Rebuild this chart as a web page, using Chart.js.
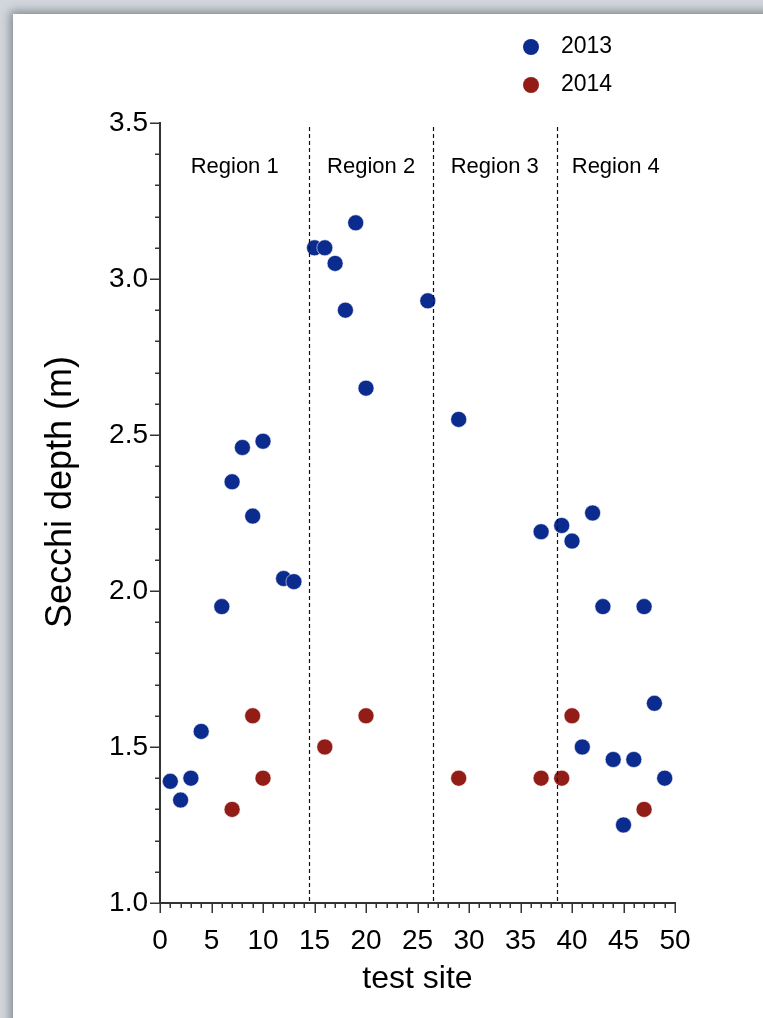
<!DOCTYPE html>
<html>
<head>
<meta charset="utf-8">
<script src="https://cdn.jsdelivr.net/npm/chart.js@4.4.1/dist/chart.umd.min.js"></script>
<style>
  html, body { margin: 0; padding: 0; width: 763px; height: 1018px; overflow: hidden; background: #d3d7dd; }
  #card { position: absolute; left: 13px; top: 14px; width: 800px; height: 1060px; background: #fff;
          box-shadow: 0 0 9px 3px rgba(70, 76, 88, 0.55); }
  #wrap { position: absolute; left: 0; top: 0; width: 763px; height: 1018px; }
</style>
</head>
<body>
<div id="card"></div>
<div id="wrap"><canvas id="chart" width="763" height="1018"></canvas></div>
<script>
// Secchi depth measurements per test site
const sites2013 = [1, 2, 3, 4, 6, 7, 8, 9, 10, 12, 13, 15, 16, 17, 18, 19, 20, 26, 29, 37, 39, 40, 41, 42, 43, 44, 45, 46, 47, 48, 49];
const depth2013 = [1.39, 1.33, 1.40, 1.55, 1.95, 2.35, 2.46, 2.24, 2.48, 2.04, 2.03, 3.10, 3.10, 3.05, 2.90, 3.18, 2.65, 2.93, 2.55, 2.19, 2.21, 2.16, 1.50, 2.25, 1.95, 1.46, 1.25, 1.46, 1.95, 1.64, 1.40];

const sites2014 = [7, 9, 10, 16, 20, 29, 37, 39, 40, 47];
const depth2014 = [1.30, 1.60, 1.40, 1.50, 1.60, 1.40, 1.40, 1.40, 1.60, 1.30];

// Region boundaries along the test-site axis
const regionBounds = [0, 14.5, 26.5, 38.5, 50];
const regionNames = ['Region 1', 'Region 2', 'Region 3', 'Region 4'];

// Axis ranges and labelled ticks
const xRange = [0, 50];
const yRange = [1.0, 3.5];
const xTickLabels = ['0', '5', '10', '15', '20', '25', '30', '35', '40', '45', '50'];
const yTickLabels = ['1.0', '1.5', '2.0', '2.5', '3.0', '3.5'];

const seriesLabels = ['2013', '2014'];
const seriesColors = ['#0b2b8f', '#921d17'];

const FONT = "'Liberation Sans', Helvetica, Arial, sans-serif";
Chart.defaults.font.family = FONT;
Chart.defaults.color = '#000';

const AXIS_COLOR = '#333';

function toPoints(xs, ys) { return xs.map((x, i) => ({ x: x, y: ys[i] })); }

const decorations = {
  id: 'decorations',
  afterDatasetsDraw(chart) {
    const ctx = chart.ctx;
    const xs = chart.scales.x;
    const area = chart.chartArea;

    // dashed region separators
    ctx.save();
    ctx.strokeStyle = '#111';
    ctx.lineWidth = 1.2;
    ctx.setLineDash([4, 3]);
    regionBounds.slice(1, -1).forEach(b => {
      const px = Math.round(xs.getPixelForValue(b)) + 0.5;
      ctx.beginPath();
      ctx.moveTo(px, area.top + 4);
      ctx.lineTo(px, area.bottom);
      ctx.stroke();
    });
    ctx.restore();

    // region names
    ctx.save();
    ctx.font = '22px ' + FONT;
    ctx.fillStyle = '#000';
    ctx.textAlign = 'center';
    ctx.textBaseline = 'middle';
    regionNames.forEach((name, i) => {
      const mid = (regionBounds[i] + regionBounds[i + 1]) / 2;
      ctx.fillText(name, xs.getPixelForValue(mid), area.top + 44);
    });
    ctx.restore();
  },
  afterDraw(chart) {
    const ctx = chart.ctx;
    const xs = chart.scales.x, ys = chart.scales.y;
    const area = chart.chartArea;

    // major and minor tick marks
    ctx.save();
    ctx.strokeStyle = AXIS_COLOR;
    ctx.lineWidth = 1.5;
    for (let v = xRange[0]; v <= xRange[1]; v++) {
      const px = Math.round(xs.getPixelForValue(v)) + 0.25;
      const len = v % 5 === 0 ? 10 : 5;
      ctx.beginPath();
      ctx.moveTo(px, area.bottom);
      ctx.lineTo(px, area.bottom + len);
      ctx.stroke();
    }
    for (let k = Math.round(yRange[0] * 10); k <= Math.round(yRange[1] * 10); k++) {
      const py = Math.round(ys.getPixelForValue(k / 10)) + 0.25;
      const len = k % 5 === 0 ? 10 : 5;
      ctx.beginPath();
      ctx.moveTo(area.left - len, py);
      ctx.lineTo(area.left, py);
      ctx.stroke();
    }
    ctx.restore();

    // y-axis title
    ctx.save();
    ctx.font = '36px ' + FONT;
    ctx.fillStyle = '#000';
    ctx.textAlign = 'center';
    ctx.textBaseline = 'middle';
    ctx.translate(61, 492);
    ctx.rotate(-Math.PI / 2);
    ctx.fillText('Secchi depth (m)', 0, 0);
    ctx.restore();

    // legend
    ctx.save();
    ctx.font = '23px ' + FONT;
    ctx.textAlign = 'left';
    ctx.textBaseline = 'middle';
    chart.data.datasets.forEach((ds, i) => {
      const cy = 47 + i * 38;
      ctx.fillStyle = ds.backgroundColor;
      ctx.beginPath();
      ctx.arc(531, cy, 8, 0, Math.PI * 2);
      ctx.fill();
      ctx.fillStyle = '#000';
      ctx.fillText(ds.label, 561, cy);
    });
    ctx.restore();
  }
};

new Chart(document.getElementById('chart'), {
  type: 'scatter',
  data: {
    datasets: [
      { label: seriesLabels[0], data: toPoints(sites2013, depth2013), backgroundColor: seriesColors[0],
        borderColor: 'rgba(255,255,255,0.7)', borderWidth: 0.8, pointRadius: 8, pointHoverRadius: 8 },
      { label: seriesLabels[1], data: toPoints(sites2014, depth2014), backgroundColor: seriesColors[1],
        borderColor: 'rgba(255,255,255,0.7)', borderWidth: 0.8, pointRadius: 8, pointHoverRadius: 8 }
    ]
  },
  options: {
    responsive: false,
    animation: false,
    layout: { padding: { left: 0, top: 123, right: 88, bottom: 0 } },
    plugins: { legend: { display: false }, tooltip: { enabled: false } },
    scales: {
      x: {
        type: 'linear', position: 'bottom', min: xRange[0], max: xRange[1],
        afterFit: s => { s.height = 115; },
        ticks: {
          stepSize: 1, autoSkip: false, maxRotation: 0, padding: 11,
          font: { size: 28 }, color: '#000',
          callback: v => (xTickLabels.includes(String(v)) ? String(v) : '')
        },
        grid: { display: true, drawOnChartArea: false, drawTicks: true, tickLength: 10,
                color: 'transparent', tickColor: 'transparent' },
        border: { display: true, color: AXIS_COLOR, width: 2 },
        title: { display: true, text: 'test site', font: { size: 32 }, color: '#000',
                 padding: { top: 0, bottom: 20 } }
      },
      y: {
        type: 'linear', position: 'left', min: yRange[0], max: yRange[1],
        afterFit: s => { s.width = 160; },
        ticks: {
          stepSize: 0.1, autoSkip: false, padding: 2,
          font: { size: 28 }, color: '#000',
          callback: v => { const t = (Math.round(v * 10) / 10).toFixed(1); return yTickLabels.includes(t) ? t : ''; }
        },
        grid: { display: true, drawOnChartArea: false, drawTicks: true, tickLength: 10,
                color: 'transparent', tickColor: 'transparent' },
        border: { display: true, color: AXIS_COLOR, width: 2 }
      }
    }
  },
  plugins: [decorations]
});
</script>
</body>
</html>
